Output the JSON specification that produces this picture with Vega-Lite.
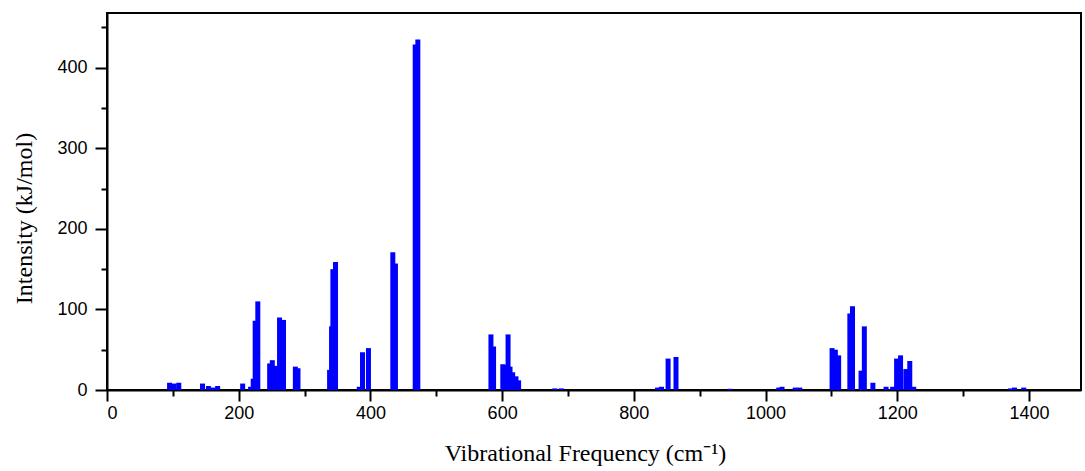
{
  "$schema": "https://vega.github.io/schema/vega-lite/v6.json",
  "width": 974,
  "height": 377,
  "autosize": {"type": "none"},
  "padding": {"left": 107, "top": 13, "right": 4, "bottom": 81},
  "background": "white",
  "config": {
    "view": {"stroke": "black", "strokeWidth": 2},
    "axis": {
      "grid": false,
      "domainColor": "black",
      "domainWidth": 2,
      "tickColor": "black",
      "tickWidth": 2,
      "labelColor": "black",
      "labelFont": "Liberation Sans",
      "labelFontSize": 18,
      "titleColor": "black",
      "titleFont": "Liberation Serif",
      "titleFontSize": 24,
      "titleFontWeight": "normal"
    }
  },
  "data": {
    "values": [
      {"freq": 95, "intensity": 9}, {"freq": 102, "intensity": 8}, {"freq": 109, "intensity": 9},
      {"freq": 145, "intensity": 8}, {"freq": 154, "intensity": 5}, {"freq": 161, "intensity": 3}, {"freq": 168, "intensity": 5},
      {"freq": 206, "intensity": 8}, {"freq": 218, "intensity": 4}, {"freq": 222, "intensity": 14}, {"freq": 225, "intensity": 86}, {"freq": 229, "intensity": 110},
      {"freq": 247, "intensity": 33}, {"freq": 251, "intensity": 37}, {"freq": 256, "intensity": 30}, {"freq": 262, "intensity": 90}, {"freq": 268, "intensity": 87},
      {"freq": 286, "intensity": 29}, {"freq": 290, "intensity": 27},
      {"freq": 338, "intensity": 25}, {"freq": 341, "intensity": 79}, {"freq": 343, "intensity": 150}, {"freq": 347, "intensity": 159},
      {"freq": 383, "intensity": 4}, {"freq": 388, "intensity": 47}, {"freq": 397, "intensity": 52},
      {"freq": 434, "intensity": 171}, {"freq": 438, "intensity": 157},
      {"freq": 468, "intensity": 429}, {"freq": 472, "intensity": 435},
      {"freq": 583, "intensity": 69}, {"freq": 587, "intensity": 54}, {"freq": 601, "intensity": 32}, {"freq": 605, "intensity": 31}, {"freq": 609, "intensity": 69},
      {"freq": 612, "intensity": 29}, {"freq": 616, "intensity": 22}, {"freq": 621, "intensity": 17}, {"freq": 625, "intensity": 12},
      {"freq": 680, "intensity": 2}, {"freq": 690, "intensity": 2},
      {"freq": 836, "intensity": 3}, {"freq": 842, "intensity": 4}, {"freq": 852, "intensity": 39}, {"freq": 864, "intensity": 41},
      {"freq": 946, "intensity": 1.5},
      {"freq": 1020, "intensity": 3}, {"freq": 1025, "intensity": 4}, {"freq": 1045, "intensity": 3}, {"freq": 1052, "intensity": 3},
      {"freq": 1101, "intensity": 52}, {"freq": 1106, "intensity": 50}, {"freq": 1111, "intensity": 43},
      {"freq": 1128, "intensity": 95}, {"freq": 1132, "intensity": 104}, {"freq": 1145, "intensity": 24}, {"freq": 1150, "intensity": 79},
      {"freq": 1163, "intensity": 9}, {"freq": 1183, "intensity": 4}, {"freq": 1193, "intensity": 4},
      {"freq": 1199, "intensity": 39}, {"freq": 1205, "intensity": 43}, {"freq": 1213, "intensity": 26}, {"freq": 1219, "intensity": 36}, {"freq": 1225, "intensity": 4},
      {"freq": 1372, "intensity": 2}, {"freq": 1378, "intensity": 3}, {"freq": 1392, "intensity": 3}
    ]
  },
  "layer": [
    {
      "mark": {"type": "bar", "color": "#0000ff", "size": 5},
      "encoding": {
        "x": {
          "field": "freq", "type": "quantitative",
          "scale": {"domain": [0, 1479], "nice": false, "zero": false, "padding": 0},
          "axis": {
            "orient": "bottom",
            "values": [0, 200, 400, 600, 800, 1000, 1200, 1400],
            "format": "d",
            "tickSize": 11,
            "labelPadding": 3,
            "title": "Vibrational Frequency (cm⁻¹)",
            "titlePadding": 19,
            "titleX": 478
          }
        },
        "y": {
          "field": "intensity", "type": "quantitative",
          "scale": {"domain": [0, 468], "nice": false, "padding": 0},
          "axis": {
            "orient": "left",
            "values": [0, 100, 200, 300, 400],
            "format": "d",
            "tickSize": 12,
            "labelPadding": 8,
            "title": "Intensity (kJ/mol)",
            "titlePadding": 20,
            "titleY": 205
          }
        }
      }
    },
    {
      "mark": {"type": "point", "opacity": 0},
      "encoding": {
        "x": {
          "field": "freq", "type": "quantitative",
          "axis": {
            "orient": "bottom",
            "values": [100, 300, 500, 700, 900, 1100, 1300],
            "tickSize": 6,
            "labels": false,
            "domain": false,
            "title": null
          }
        },
        "y": {
          "field": "intensity", "type": "quantitative",
          "axis": {
            "orient": "left",
            "values": [50, 150, 250, 350, 450],
            "tickSize": 6,
            "labels": false,
            "domain": false,
            "title": null
          }
        }
      }
    }
  ],
  "resolve": {"axis": {"x": "independent", "y": "independent"}}
}
